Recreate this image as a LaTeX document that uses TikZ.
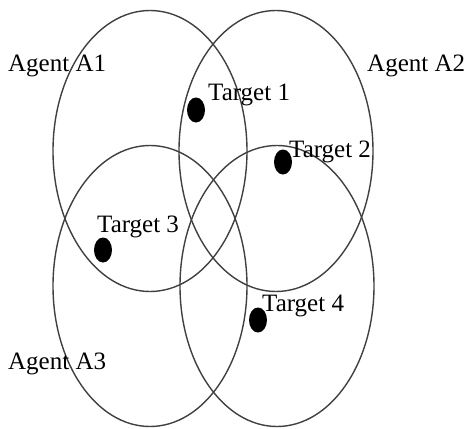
\documentclass[tikz,border=0pt]{standalone}
\usepackage{fontspec}
\setmainfont{Liberation Serif}
\usetikzlibrary{shapes.geometric}

\tikzset{
  agentrange/.style={ellipse, draw=black!75, line width=1.4pt, inner sep=0pt,
    minimum width=194pt, minimum height=281pt},
  target/.style={ellipse, fill=black, inner sep=0pt,
    minimum width=18pt, minimum height=25pt},
  tag/.style={anchor=base west, inner sep=0pt, font=\fontsize{25}{28}\selectfont}
}

\begin{document}
\begin{tikzpicture}[x=1pt, y=-1pt]
    \useasboundingbox (0,0) rectangle (467,429);

    % Sensing ranges of the agents
    \node[agentrange] (a1) at (150,151) {};
    \node[agentrange] (a2) at (276,151) {};
    \node[agentrange] (a3) at (150,286) {};
    \node[agentrange] (a4) at (277,286) {};

    % Targets
    \node[target] (t1) at (196,110) {};
    \node[target] (t2) at (283,162) {};
    \node[target] (t3) at (103,250) {};
    \node[target] (t4) at (258,320) {};

    % Labels
    \node[tag] (la1) at (8,71) {Agent A1};
    \node[tag] (la2) at (367,71) {Agent A2};
    \node[tag] (la3) at (8,369) {Agent A3};
    \node[tag] (lt1) at (208,100) {Target 1};
    \node[tag] (lt2) at (289,157) {Target 2};
    \node[tag] (lt3) at (97,232) {Target 3};
    \node[tag] (lt4) at (262,311) {Target 4};
\end{tikzpicture}
\end{document}
